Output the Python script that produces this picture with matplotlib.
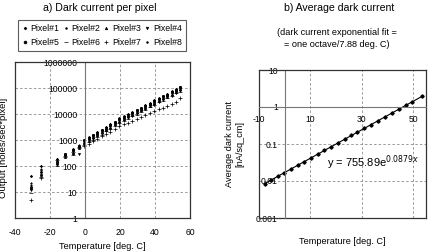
import numpy as np
import matplotlib
matplotlib.use("Agg")
import matplotlib.pyplot as plt
from matplotlib.ticker import NullLocator

plt.rcParams['font.family'] = ['Liberation Sans', 'DejaVu Sans']

# ---- a) dark current per pixel (values read as log10 of holes/sec*pixel)
temp_a = [-31, -25, -16, -11.5, -7, -3.3, -0.5, 2, 4.5, 7, 9.5, 12, 14.5, 17, 19.5,
          22, 24.5, 27, 29.5, 32, 34.5, 37, 39.5, 42, 44.5, 47, 49.5, 52, 54]

pix1 = [1.62, 2.00, 2.28, 2.48, 2.66, 2.78, 3.00, 3.10, 3.19, 3.31, 3.39, 3.51, 3.60, 3.71, 3.84,
        3.91, 4.01, 4.07, 4.17, 4.24, 4.35, 4.42, 4.53, 4.61, 4.71, 4.77, 4.88, 4.95, 5.04]
pix2 = [1.33, 1.90, 2.20, 2.42, 2.58, 2.74, 2.96, 3.03, 3.16, 3.24, 3.36, 3.44, 3.56, 3.66, 3.79,
        3.86, 3.96, 4.02, 4.12, 4.19, 4.30, 4.37, 4.48, 4.56, 4.66, 4.72, 4.83, 4.90, 5.01]
pix3 = [1.22, 1.80, 2.12, 2.35, 2.50, 2.70, 2.90, 2.98, 3.11, 3.19, 3.31, 3.39, 3.51, 3.61, 3.74,
        3.81, 3.91, 3.97, 4.07, 4.14, 4.25, 4.32, 4.43, 4.51, 4.61, 4.67, 4.78, 4.85, 4.96]
pix4 = [1.07, 1.72, 2.05, 2.40, 2.45, 2.48, 2.84, 2.95, 3.04, 3.16, 3.24, 3.36, 3.44, 3.57, 3.67,
        3.78, 3.84, 3.94, 4.00, 4.11, 4.18, 4.29, 4.36, 4.48, 4.54, 4.64, 4.71, 4.82, 4.89]
pix5 = [1.15, 1.65, 2.15, 2.45, 2.60, 2.76, 2.99, 3.06, 3.18, 3.27, 3.38, 3.47, 3.58, 3.69, 3.81,
        3.89, 3.98, 4.05, 4.14, 4.22, 4.32, 4.40, 4.50, 4.59, 4.68, 4.75, 4.85, 4.93, 5.02]
pix6 = [0.95, 1.58, 2.00, 2.33, 2.42, 2.68, 2.81, 2.92, 3.01, 3.13, 3.21, 3.33, 3.41, 3.55, 3.64,
        3.75, 3.81, 3.91, 3.97, 4.08, 4.15, 4.26, 4.33, 4.45, 4.51, 4.61, 4.68, 4.79, 4.86]
pix7 = [0.68, 1.52, 2.25, 2.38, 2.55, 2.72, 2.78, 2.86, 2.96, 3.05, 3.14, 3.23, 3.32, 3.43, 3.52,
        3.60, 3.67, 3.74, 3.80, 3.88, 3.95, 4.03, 4.10, 4.18, 4.25, 4.32, 4.40, 4.48, 4.62]
pix8 = [1.28, 1.85, 2.10, 2.44, 2.62, 2.80, 2.92, 3.03, 3.12, 3.24, 3.32, 3.43, 3.53, 3.64, 3.77,
        3.84, 3.93, 4.01, 4.08, 4.18, 4.26, 4.36, 4.44, 4.55, 4.62, 4.71, 4.79, 4.89, 4.97]
pixels = [pix1, pix2, pix3, pix4, pix5, pix6, pix7, pix8]
pixel_names = ['Pixel#1', 'Pixel#2', 'Pixel#3', 'Pixel#4',
               'Pixel#5', 'Pixel#6', 'Pixel#7', 'Pixel#8']
markers = ['D', '.', '^', 'v', 'o', '_', '+', '.']
msizes = [1.2, 2.0, 1.5, 1.5, 1.7, 2.4, 2.4, 2.0]

yticks_a = [1, 10, 100, 1000, 10000, 100000, 1000000]
ylabels_a = ['1', '10', '100', '1000', '10000', '100000', '1000000']
xticks_a = [-40, -20, 0, 20, 40, 60]

# ---- b) average dark current [nA/sq_cm]
temp_b = [-7.8, -5.3, -2.7, -0.2, 2.4, 5.0, 7.6, 10.2, 12.8, 15.4, 18.0, 20.6,
          23.3, 26.0, 28.3, 30.9, 33.5, 36.4, 39.0, 41.9, 44.5, 47.1, 49.5, 53.4]
avg_b = [0.0085, 0.0107, 0.0133, 0.0168, 0.0209, 0.0266, 0.0331, 0.0422, 0.0525, 0.0668,
         0.0830, 0.106, 0.133, 0.171, 0.207, 0.264, 0.330, 0.430, 0.535, 0.700,
         0.875, 1.11, 1.35, 1.95]
yticks_b = [0.001, 0.01, 0.1, 1, 10]
ylabels_b = ['0.001', '0.01', '0.1', '1', '10']
xticks_b = [-10, 10, 30, 50]

grid_kw = dict(color='#8c8c8c', linestyle=(0, (3, 2.5)), linewidth=0.6)
fs_tick = 6.2

fig = plt.figure(figsize=(4.28, 2.52), dpi=100)

# ================= panel a
axa = fig.add_axes([15/428, 34/252, 175/428, 156/252])
handles = []
for vals, name, mk, ms in zip(pixels, pixel_names, markers, msizes):
    h, = axa.plot(temp_a, 10 ** np.array(vals), linestyle='none', marker=mk, markersize=ms,
                  color='black', markeredgewidth=0.5, label=name)
    handles.append(h)
axa.set_yscale('log')
axa.set_ylim(1, 1000000)
axa.set_xlim(-40, 60)
axa.yaxis.set_minor_locator(NullLocator())
axa.set_yticks(yticks_a, ylabels_a)
axa.set_xticks(xticks_a)
axa.set_xticklabels([str(t) for t in xticks_a])
for y in yticks_a[1:-1]:
    axa.axhline(y, zorder=0, **grid_kw)
for x in xticks_a[1:-1]:
    if x != 0:
        axa.axvline(x, zorder=0, **grid_kw)
axa.spines['left'].set_position(('data', 0))
axa.spines['left'].set_color('#777777')
axa.spines['left'].set_linewidth(0.8)
for s in ['top', 'right', 'bottom']:
    axa.spines[s].set_color('#333333')
    axa.spines[s].set_linewidth(0.9)
axa.plot([0, 0], [0, 1], transform=axa.transAxes, color='#333333', lw=0.9, clip_on=False)
axa.tick_params(axis='y', length=0, pad=5.5, labelsize=fs_tick)
axa.tick_params(axis='x', length=0, pad=7, labelsize=fs_tick)
axa.set_xlabel('Temperature [deg. C]', fontsize=6.6)
axa.xaxis.set_label_coords(0.5, -0.155)
axa.set_ylabel('Output [holes/sec*pixel]', fontsize=6.8)
axa.yaxis.set_label_coords(-0.04, 0.45)
fig.text(100/428, 1 - 8/252, 'a) Dark current per pixel', ha='center', va='center',
         fontsize=7.6)
# legend filled row by row (4 per row)
order = [0, 4, 1, 5, 2, 6, 3, 7]
leg = fig.legend([handles[i] for i in order], [pixel_names[i] for i in order],
                 loc='center', bbox_to_anchor=(14/428, 1 - 52/252, 176/428, 33/252),
                 mode='expand', ncol=4, fontsize=6.3, frameon=True, fancybox=False,
                 edgecolor='#333333', handlelength=0.6, handletextpad=0.35,
                 columnspacing=0.4, borderpad=0.45, labelspacing=0.5, markerscale=1.2)
leg.get_frame().set_linewidth(0.8)

# ================= panel b
axb = fig.add_axes([259/428, 34/252, 167/428, 148/252])
axb.plot(temp_b, avg_b, linestyle='none', marker='D', markersize=1.7, color='black')
coef = np.polyfit(temp_b, np.log(avg_b), 1)
xfit = np.array([min(temp_b), max(temp_b)])
axb.plot(xfit, np.exp(np.polyval(coef, xfit)), color='black', lw=0.8)
axb.set_yscale('log')
axb.set_ylim(0.001, 10)
axb.set_xlim(-10, 55)
axb.yaxis.set_minor_locator(NullLocator())
axb.set_yticks(yticks_b, ylabels_b)
axb.set_xticks(xticks_b)
axb.set_xticklabels([str(t) for t in xticks_b])
for y in yticks_b[1:-1]:
    if y != 1:
        axb.axhline(y, zorder=0, **grid_kw)
for x in xticks_b[1:]:
    axb.axvline(x, zorder=0, **grid_kw)
axb.spines['left'].set_position(('data', 0))
axb.spines['bottom'].set_position(('data', 1))
for s in ['left', 'bottom']:
    axb.spines[s].set_color('#777777')
    axb.spines[s].set_linewidth(0.8)
for s in ['top', 'right']:
    axb.spines[s].set_color('#333333')
    axb.spines[s].set_linewidth(0.9)
axb.plot([0, 0], [0, 1], transform=axb.transAxes, color='#333333', lw=0.9, clip_on=False)
axb.plot([0, 1], [0, 0], transform=axb.transAxes, color='#333333', lw=0.9, clip_on=False)
axb.tick_params(axis='y', length=0, pad=5, labelsize=fs_tick)
axb.tick_params(axis='x', length=0, pad=6, labelsize=fs_tick)
axb.set_xlabel('Temperature [deg. C]', fontsize=6.6)
axb.xaxis.set_label_coords(0.5, -0.13)
axb.set_ylabel('Average dark current\n[nA/sq_cm]', fontsize=6.6, linespacing=1.1)
axb.yaxis.set_label_coords(-0.09, 0.5)
axb.text(0.405, 0.347, r'y = 755.89e$^{0.0879x}$', transform=axb.transAxes,
         ha='left', va='baseline', fontsize=8)
fig.text(339/428, 1 - 8/252, 'b) Average dark current', ha='center', va='center',
         fontsize=7.6)
fig.text(337/428, 1 - 38.5/252, '(dark current exponential fit =\n= one octave/7.88 deg. C)',
         ha='center', va='center', fontsize=6.6, linespacing=1.3)

fig.savefig('out.png', dpi=100)
